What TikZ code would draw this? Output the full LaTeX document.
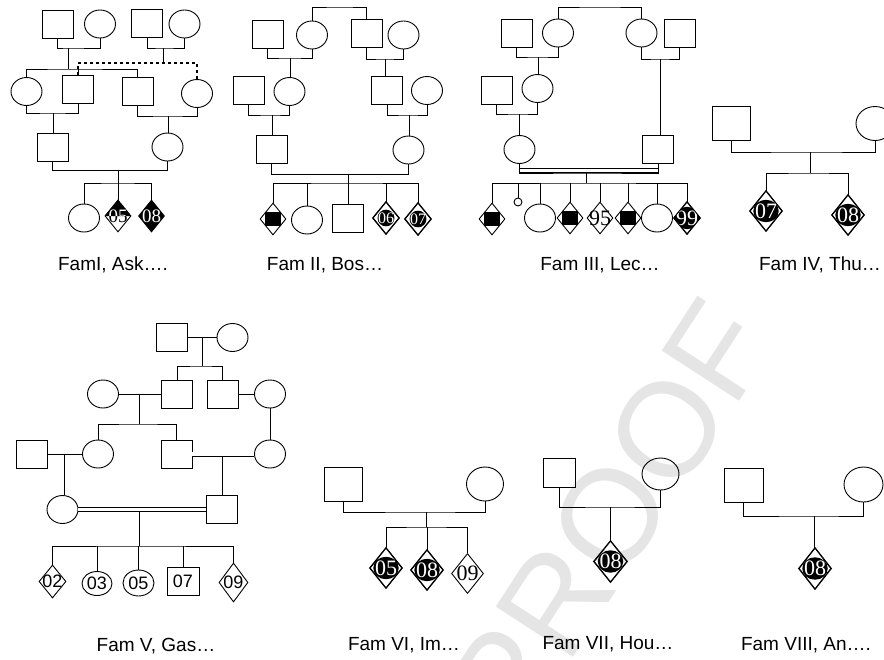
\documentclass[tikz,border=0pt]{standalone}
\usepackage{fontspec}
\usetikzlibrary{shapes.geometric}
\newfontfamily\capfont{Liberation Sans}
\newfontfamily\digitfont{Liberation Serif}
\tikzset{
  male/.style={draw, rectangle, minimum width=31pt, minimum height=28pt, inner sep=0pt},
  female/.style={draw, ellipse, minimum width=31pt, minimum height=28pt, inner sep=0pt},
  sexunk/.style={draw, diamond, minimum width=26pt, minimum height=32pt, inner sep=0pt},
  bigsize/.style={minimum width=38pt, minimum height=34pt},
  bigdia/.style={minimum width=32pt, minimum height=40pt},
  lost/.style={draw, circle, minimum size=8pt, inner sep=0pt},
  affsq/.style={fill=black, minimum width=16pt, minimum height=14pt, inner sep=0pt},
  darktag/.style={fill=black, ellipse, text=white, inner xsep=-2pt, inner ysep=0.5pt},
  plaintag/.style={inner sep=0pt},
  midtag/.style={font=\digitfont\fontsize{19}{19}\selectfont},
  smalltag/.style={font=\digitfont\fontsize{16}{16}\selectfont},
  bigtag/.style={font=\digitfont\fontsize{22}{22}\selectfont},
  sanstag/.style={inner sep=0pt, font=\capfont\fontsize{18}{18}\selectfont},
  famlabel/.style={inner sep=0pt, font=\capfont\fontsize{19}{19}\selectfont},
  watermark/.style={inner sep=0pt, text=black!10, font=\capfont\fontsize{134}{134}\selectfont},
  consang/.style={double, double distance=3.2pt},
  dotline/.style={line width=2.2pt, dash pattern=on 3pt off 3pt}
}
% black number patch inside a diamond: #1 diamond, #2 tag name, #3 size style, #4 digits
\newcommand{\darkdia}[4]{%
  \begin{scope}
    \clip (#1.north) -- (#1.east) -- (#1.south) -- (#1.west) -- cycle;
    \node[darktag, #3] (#2) at (#1.center) {#4};
  \end{scope}
  \draw (#1.north) -- (#1.east) -- (#1.south) -- (#1.west) -- cycle;
}

\begin{document}
\begin{tikzpicture}[x=1pt, y=-1pt, line width=0.9pt]
  \useasboundingbox (0,0) rectangle (884,659);
  \node[watermark, rotate=57] (proof) at (610,517) {PROOF};

  % Fam I
  \node[male] (f1pa) at (57.5,24) {};
  \node[female] (f1pb) at (100,24) {};
  \node[male] (f1pc) at (147,23) {};
  \node[female] (f1pd) at (184.5,24) {};
  \node[female] (f1a) at (26.5,91.5) {};
  \node[male] (f1b) at (78,89) {};
  \node[male] (f1c) at (137.5,91) {};
  \node[female] (f1d) at (197,93.5) {};
  \node[male] (f1e) at (52.5,147.5) {};
  \node[female] (f1f) at (167.5,147) {};
  \node[female] (f1g) at (84,218) {};
  \node[sexunk] (f1h) at (118,216) {};
  \node[sexunk, fill=black] (f1i) at (151.5,216) {};
  \begin{scope}
    \clip (f1h.north) -- (f1h.east) -- (f1h.south) -- (f1h.west) -- cycle;
    \fill (f1h.north) -- (f1h.east) -- (f1h.west) -- cycle;
    \node[plaintag, midtag, text=white] (t1h) at (f1h.center) {05};
    \clip (f1h.west) rectangle (f1h.south -| f1h.east);
    \node[plaintag, midtag] (t1hb) at (f1h.center) {05};
  \end{scope}
  \node[plaintag, midtag, text=white] (t1i) at (f1i.center) {08};
  \node[famlabel] (lab1) at (113,265) {FamI, Ask….};

  \coordinate (m1a) at (68,48);
  \coordinate (s1a) at (68,69);
  \coordinate (m1b) at (163,48);
  \coordinate (s1b) at (163,63);
  \coordinate (m1c) at (53,113);
  \coordinate (m1d) at (168,116);
  \coordinate (c1) at (118,168);
  \coordinate (c1b) at (118,170);
  \coordinate (s1c) at (118,183);
  \draw (f1pa.south) |- (m1a) -| (f1pb.south);
  \draw (m1a) -- (s1a);
  \draw (f1a.north) |- (s1a) -| (f1c.north);
  \draw (f1b.north) -- (f1b.north |- s1a);
  \draw (f1pc.south) |- (m1b) -| (f1pd.south);
  \draw (m1b) -- (s1b);
  \draw[dotline] (f1b.north) |- (s1b) -| (f1d.north);
  \draw (f1a.south) |- (m1c) -| (f1b.south);
  \draw (m1c) -- (m1c |- f1e.north);
  \draw (f1c.south) |- (m1d) -| (f1d.south);
  \draw (m1d) -- (m1d |- f1f.north);
  \draw[consang] (f1e.south |- c1) -- (f1f.south |- c1);
  \draw (f1e.south) |- (c1b) -| (f1f.south);
  \draw (c1b) -- (s1c);
  \draw (f1g.north) |- (s1c) -| (f1i.north);
  \draw (f1h.north) -- (f1h.north |- s1c);

  % Fam II
  \node[male] (f2pa) at (267.5,34) {};
  \node[female] (f2pb) at (312,35) {};
  \node[male] (f2pc) at (366.5,33.5) {};
  \node[female] (f2pd) at (403.5,35) {};
  \node[male] (f2a) at (248.5,90.5) {};
  \node[female] (f2b) at (289.5,91.5) {};
  \node[male] (f2c) at (387,90.5) {};
  \node[female] (f2d) at (427,90.5) {};
  \node[male] (f2e) at (271.5,149.5) {};
  \node[female] (f2f) at (408.5,150) {};
  \node[sexunk] (f2g) at (273,219) {};
  \node[female] (f2h) at (307,220) {};
  \node[male] (f2i) at (348,218.5) {};
  \node[sexunk] (f2j) at (386,218) {};
  \node[sexunk] (f2k) at (418,219) {};
  \node[affsq] (q2g) at (f2g.center) {};
  \darkdia{f2j}{t2j}{smalltag}{06}
  \darkdia{f2k}{t2k}{smalltag}{07}
  \node[famlabel] (lab2) at (325,265) {Fam II, Bos…};

  \coordinate (t2) at (340,7);
  \coordinate (m2a) at (290,58);
  \coordinate (m2b) at (385,59);
  \coordinate (m2c) at (272,115);
  \coordinate (m2d) at (409,115);
  \coordinate (c2) at (348,172);
  \coordinate (c2b) at (348,174);
  \coordinate (s2) at (348,183);
  \draw (f2pb.north) |- (t2) -| (f2pc.north);
  \draw (f2pa.south) |- (m2a) -| (f2pb.south);
  \draw (m2a) -- (m2a |- f2b.north);
  \draw (f2pc.south) |- (m2b) -| (f2pd.south);
  \draw (m2b) -- (m2b |- f2c.north);
  \draw (f2a.south) |- (m2c) -| (f2b.south);
  \draw (m2c) -- (m2c |- f2e.north);
  \draw (f2c.south) |- (m2d) -| (f2d.south);
  \draw (m2d) -- (m2d |- f2f.north);
  \draw[consang] (f2e.south |- c2) -- (f2f.south |- c2);
  \draw (f2e.south) |- (c2b) -| (f2f.south);
  \draw (c2b) -- (s2);
  \draw (f2g.north) |- (s2) -| (f2k.north);
  \draw (f2h.north) -- (f2h.north |- s2);
  \draw (f2i.north) -- (f2i.north |- s2);
  \draw (f2j.north) -- (f2j.north |- s2);

  % Fam III
  \node[male] (f3pa) at (516.5,33) {};
  \node[female] (f3pb) at (558,33) {};
  \node[female] (f3pc) at (641.5,33) {};
  \node[male] (f3pd) at (679.5,33) {};
  \node[male] (f3a) at (496.5,90.5) {};
  \node[female] (f3b) at (537.5,88.5) {};
  \node[female] (f3c) at (519.5,149.5) {};
  \node[male] (f3d) at (658,149.5) {};
  \node[sexunk] (f3e) at (492,219) {};
  \node[lost] (f3f) at (518,202) {};
  \node[female] (f3g) at (540,218) {};
  \node[sexunk] (f3h) at (570,218) {};
  \node[sexunk] (f3i) at (600,218) {};
  \node[sexunk] (f3j) at (628,218) {};
  \node[female] (f3k) at (657,218) {};
  \node[sexunk] (f3l) at (687,218) {};
  \node[affsq] (q3e) at (f3e.center) {};
  \node[affsq] (q3h) at (f3h.center) {};
  \node[affsq] (q3j) at (f3j.center) {};
  \node[plaintag, bigtag] (t3i) at (f3i.center) {95};
  \darkdia{f3l}{t3l}{bigtag}{99}
  \node[famlabel] (lab3) at (600,265) {Fam III, Lec…};

  \coordinate (t3) at (600,7);
  \coordinate (m3a) at (538,57);
  \coordinate (m3b) at (660,59);
  \coordinate (m3c) at (519,114);
  \coordinate (c3) at (586,170.5);
  \coordinate (c3b) at (586,173);
  \coordinate (s3) at (586,183);
  \draw (f3pb.north) |- (t3) -| (f3pc.north);
  \draw (f3pa.south) |- (m3a) -| (f3pb.south);
  \draw (m3a) -- (m3a |- f3b.north);
  \draw (f3pc.south) |- (m3b) -| (f3pd.south);
  \draw (m3b) -- (m3b |- f3d.north);
  \draw (f3a.south) |- (m3c) -| (f3b.south);
  \draw (m3c) -- (m3c |- f3c.north);
  \draw[consang] (f3c.south |- c3) -- (f3d.south |- c3);
  \draw (f3c.south) |- (c3b) -| (f3d.south);
  \draw (c3b) -- (s3);
  \draw (f3e.north) |- (s3) -| (f3l.north);
  \draw (f3f.north) -- (f3f.north |- s3);
  \draw (f3g.north) -- (f3g.north |- s3);
  \draw (f3h.north) -- (f3h.north |- s3);
  \draw (f3i.north) -- (f3i.north |- s3);
  \draw (f3j.north) -- (f3j.north |- s3);
  \draw (f3k.north) -- (f3k.north |- s3);

  % Fam IV
  \node[male, bigsize] (f4a) at (731,123.5) {};
  \node[female, bigsize] (f4b) at (875,123.5) {};
  \node[sexunk, bigdia] (f4c) at (766,211) {};
  \node[sexunk, bigdia] (f4d) at (848,215) {};
  \darkdia{f4c}{t4c}{bigtag}{07}
  \darkdia{f4d}{t4d}{bigtag}{08}
  \node[famlabel] (lab4) at (820,265) {Fam IV, Thu…};
  \coordinate (m4) at (810,152);
  \coordinate (s4) at (810,173);
  \draw (f4a.south) |- (m4) -| (f4b.south);
  \draw (m4) -- (s4);
  \draw (f4c.north) |- (s4) -| (f4d.north);

  % Fam V
  \node[male] (f5pa) at (171.5,337.5) {};
  \node[female] (f5pb) at (232.5,337.5) {};
  \node[female] (f5a) at (103,394) {};
  \node[male] (f5b) at (177,394) {};
  \node[male] (f5c) at (222.5,394) {};
  \node[female] (f5d) at (270,394) {};
  \node[male] (f5e) at (31.5,454) {};
  \node[female] (f5f) at (98,454) {};
  \node[male] (f5g) at (176.5,454) {};
  \node[female] (f5h) at (270,454) {};
  \node[female] (f5i) at (62.5,509.5) {};
  \node[male] (f5j) at (221.5,509.5) {};
  \node[sexunk, minimum width=27pt, minimum height=33pt] (f5k) at (52.5,581.5) {};
  \node[female, minimum width=30pt, minimum height=24pt] (f5l) at (97,583.5) {};
  \node[female, minimum height=26pt] (f5m) at (138.5,583) {};
  \node[male, minimum width=32pt] (f5n) at (183,581) {};
  \node[sexunk, minimum width=29pt, minimum height=39pt] (f5o) at (233.5,582.5) {};
  \node[sanstag] (t5k) at (f5k.center) {02};
  \node[sanstag] (t5l) at (f5l.center) {03};
  \node[sanstag] (t5m) at (f5m.center) {05};
  \node[sanstag] (t5n) at (f5n.center) {07};
  \node[sanstag] (t5o) at (f5o.center) {09};
  \node[famlabel] (lab5) at (156,646) {Fam V, Gas…};

  \coordinate (m5a) at (202,337.5);
  \coordinate (s5a) at (202,366);
  \coordinate (m5b) at (139,394);
  \coordinate (s5b) at (139,424);
  \coordinate (m5c) at (64,454);
  \coordinate (c5) at (222,456);
  \coordinate (c5b) at (139,511.5);
  \coordinate (s5c) at (139,546);
  \draw (f5pa.east) -- (f5pb.west);
  \draw (m5a) -- (s5a);
  \draw (f5b.north) |- (s5a) -| (f5c.north);
  \draw (f5a.east) -- (f5b.west);
  \draw (m5b) -- (s5b);
  \draw (f5f.north) |- (s5b) -| (f5g.north);
  \draw (f5c.east) -- (f5d.west);
  \draw (f5d.south) -- (f5h.north);
  \draw (f5e.east) -- (f5f.west);
  \draw (m5c) -- (m5c |- f5i.north);
  \draw[consang] (f5g.east) -- (f5h.west);
  \draw (c5) -- (c5 |- f5j.north);
  \draw[consang] (f5i.east) -- (f5j.west);
  \draw (c5b) -- (s5c);
  \draw (f5k.north) |- (s5c) -| (f5o.north);
  \draw (f5l.north) -- (f5l.north |- s5c);
  \draw (f5m.north) -- (f5m.north |- s5c);
  \draw (f5n.north) -- (f5n.north |- s5c);

  % Fam VI
  \node[male, bigsize] (f6a) at (343.5,484) {};
  \node[female, bigsize, minimum width=37pt] (f6b) at (485,484) {};
  \node[sexunk, bigdia] (f6c) at (386,568) {};
  \node[sexunk, bigdia] (f6d) at (427,570) {};
  \node[sexunk, bigdia] (f6e) at (467.5,573.5) {};
  \darkdia{f6c}{t6c}{bigtag}{05}
  \darkdia{f6d}{t6d}{bigtag}{08}
  \node[plaintag, bigtag] (t6e) at (f6e.center) {09};
  \node[famlabel] (lab6) at (404,645) {Fam VI, Im…};
  \coordinate (m6) at (426,512);
  \coordinate (s6) at (426,527);
  \draw (f6a.south) |- (m6) -| (f6b.south);
  \draw (m6) -- (s6);
  \draw (f6c.north) |- (s6) -| (f6e.north);
  \draw (f6d.north) -- (f6d.north |- s6);

  % Fam VII
  \node[male, minimum width=32pt, minimum height=29pt] (f7a) at (559,472.5) {};
  \node[female, minimum width=37pt, minimum height=32pt] (f7b) at (660.5,474) {};
  \node[sexunk, minimum width=33pt, minimum height=41pt] (f7c) at (610.5,561.5) {};
  \darkdia{f7c}{t7c}{bigtag}{08}
  \node[famlabel] (lab7) at (608,644) {Fam VII, Hou…};
  \coordinate (m7) at (610,507);
  \draw (f7a.south) |- (m7) -| (f7b.south);
  \draw (m7) -- (m7 |- f7c.north);

  % Fam VIII
  \node[male, bigsize, minimum width=39pt] (f8a) at (743.5,485) {};
  \node[female, minimum width=39pt, minimum height=35pt] (f8b) at (863.5,484.5) {};
  \node[sexunk, minimum width=32pt, minimum height=41pt] (f8c) at (815,568.5) {};
  \darkdia{f8c}{t8c}{bigtag}{08}
  \node[famlabel] (lab8) at (806,645) {Fam VIII, An….};
  \coordinate (m8) at (814,516);
  \draw (f8a.south) |- (m8) -| (f8b.south);
  \draw (m8) -- (m8 |- f8c.north);
\end{tikzpicture}
\end{document}
